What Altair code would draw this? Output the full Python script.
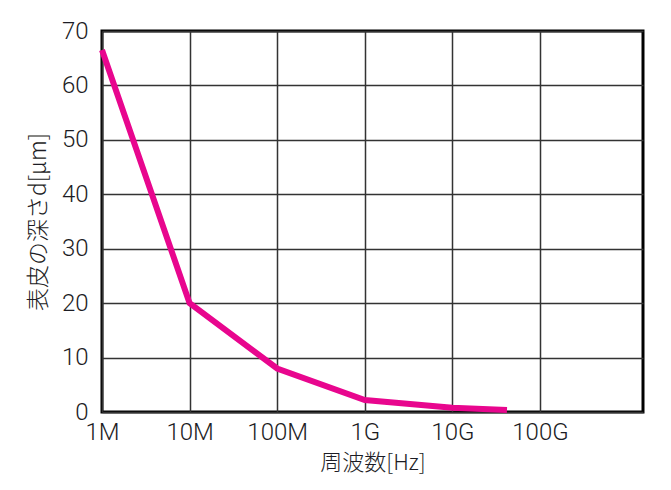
import altair as alt
import pandas as pd

# data
freq_hz = [1e6, 1e7, 1e8, 1e9, 1e10, 4.2e10]
depth_um = [66.5, 20.0, 8.0, 2.2, 0.8, 0.35]

x_ticks = [1e6, 1e7, 1e8, 1e9, 1e10, 1e11]
x_labels = ["1M", "10M", "100M", "1G", "10G", "100G"]
y_ticks = [0, 10, 20, 30, 40, 50, 60, 70]

df = pd.DataFrame({"f": freq_hz, "d": depth_um})

label_map = "{" + ",".join(f"'{int(v)}':'{l}'" for v, l in zip(x_ticks, x_labels)) + "}"
label_expr = f"{label_map}[format(datum.value, 'd')]"

txt = "#1c1c24"

chart = alt.Chart(df).mark_line(color="#E8068E", strokeWidth=6, clip=False).encode(
    x=alt.X(
        "f:Q",
        scale=alt.Scale(type="log", domain=[1e6, 1.5e12], nice=False),
        axis=alt.Axis(
            values=x_ticks,
            labelExpr=label_expr,
            title="周波数[Hz]",
            ticks=False,
            domain=False,
            grid=True,
            gridColor="#333333",
            gridWidth=1.5,
            labelFont="Roboto",
            labelFontWeight=300,
            labelFontSize=24,
            labelColor=txt,
            labelPadding=8,
            labelFlush=False,
            labelOverlap=False,
            titleFont="Noto Sans CJK JP",
            titleFontSize=22,
            titleFontWeight=300,
            titleColor=txt,
            titlePadding=8,
        ),
    ),
    y=alt.Y(
        "d:Q",
        scale=alt.Scale(domain=[0, 70], nice=False),
        axis=alt.Axis(
            values=y_ticks,
            title="表皮の深さd[μm]",
            ticks=False,
            domain=False,
            grid=True,
            gridColor="#333333",
            gridWidth=1.5,
            labelFont="Roboto",
            labelFontWeight=300,
            labelFontSize=24,
            labelColor=txt,
            labelPadding=14,
            labelOverlap=False,
            titleFont="Noto Sans CJK JP",
            titleFontSize=23,
            titleFontWeight=300,
            titleColor=txt,
            titlePadding=11,
        ),
    ),
).properties(
    width=541,
    height=381,
    autosize=alt.AutoSizeParams(type="none"),
    padding={"left": 94, "top": 23, "right": 20, "bottom": 70},
).configure_view(
    stroke="#000000",
    strokeWidth=3,
)

chart.save("out.html", embed_options={"renderer": "svg", "actions": False})
